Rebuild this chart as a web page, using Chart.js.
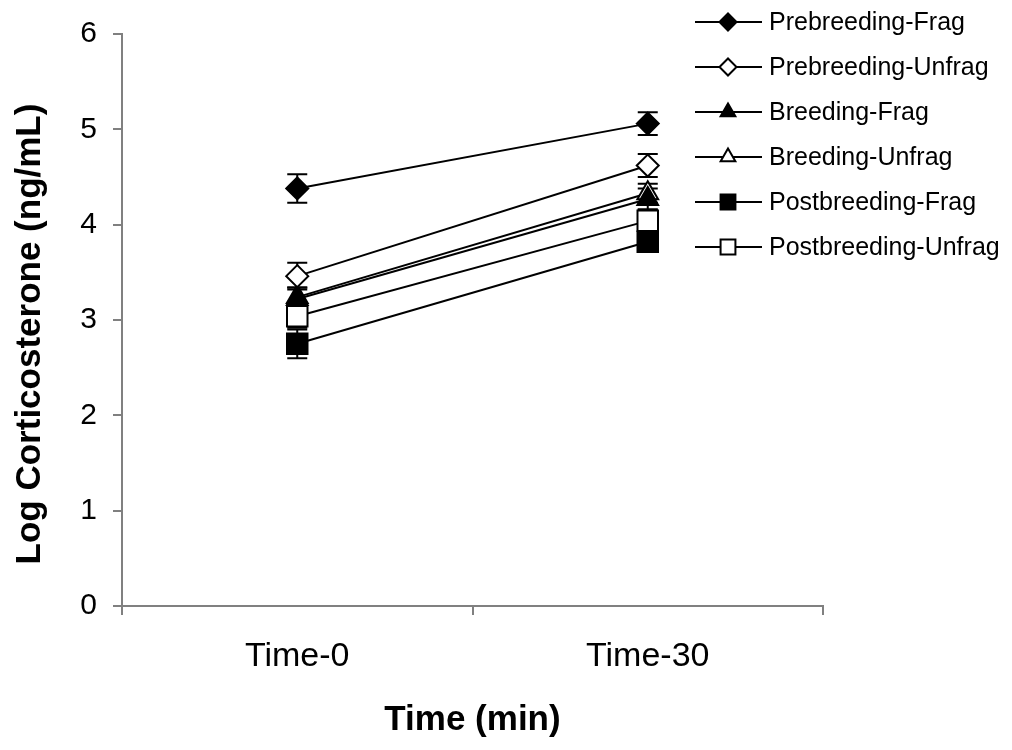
<!DOCTYPE html>
<html>
<head>
<meta charset="utf-8">
<script src="https://cdn.jsdelivr.net/npm/chart.js@4/dist/chart.umd.min.js"></script>
<style>
  html, body { margin: 0; padding: 0; background: #fff; }
  #wrap { width: 1012px; height: 750px; }
</style>
</head>
<body>
<div id="wrap"><canvas id="cortChart" width="1012" height="750"></canvas></div>
<script>
// categories and values
var categories = ["Time-0", "Time-30"];
var yTicks = [0, 1, 2, 3, 4, 5, 6];

var preFrag = [4.38, 5.06];
var preFragErr = [0.15, 0.12];
var preUnfrag = [3.46, 4.62];
var preUnfragErr = [0.14, 0.12];
var brFrag = [3.22, 4.27];
var brFragErr = [0.12, 0.11];
var brUnfrag = [3.24, 4.33];
var brUnfragErr = [0.10, 0.10];
var postFrag = [2.75, 3.82];
var postFragErr = [0.15, 0.10];
var postUnfrag = [3.04, 4.04];
var postUnfragErr = [0.12, 0.12];

var seriesNames = [
  "Prebreeding-Frag", "Prebreeding-Unfrag", "Breeding-Frag",
  "Breeding-Unfrag", "Postbreeding-Frag", "Postbreeding-Unfrag"
];

var yTitle = "Log Corticosterone (ng/mL)";
var FONT = "'Liberation Sans', Arial, sans-serif";

function makeSet(i, values, errs, style, filled, radius) {
  return {
    label: seriesNames[i],
    data: values,
    errors: errs,
    borderColor: "#000",
    borderWidth: 2,
    pointStyle: style,
    pointRadius: radius,
    pointHoverRadius: radius,
    pointBorderWidth: 2,
    pointBorderColor: "#000",
    pointBackgroundColor: filled ? "#000" : "#fff",
    fill: false,
    tension: 0
  };
}

var datasets = [
  makeSet(0, preFrag, preFragErr, "rectRot", true, 11),
  makeSet(1, preUnfrag, preUnfragErr, "rectRot", false, 11),
  makeSet(2, brFrag, brFragErr, "triangle", true, 12),
  makeSet(3, brUnfrag, brUnfragErr, "triangle", false, 12),
  makeSet(4, postFrag, postFragErr, "rect", true, 14.5),
  makeSet(5, postUnfrag, postUnfragErr, "rect", false, 14.5)
];

// error bars drawn under the markers
var errorBars = {
  id: "errorBars",
  beforeDatasetsDraw: function (chart) {
    var ctx = chart.ctx;
    var y = chart.scales.y;
    ctx.save();
    ctx.strokeStyle = "#000";
    ctx.lineWidth = 2;
    chart.data.datasets.forEach(function (ds, di) {
      var meta = chart.getDatasetMeta(di);
      meta.data.forEach(function (pt, i) {
        var v = ds.data[i], e = ds.errors[i];
        var top = y.getPixelForValue(v + e);
        var bot = y.getPixelForValue(v - e);
        ctx.beginPath();
        ctx.moveTo(pt.x, top); ctx.lineTo(pt.x, bot);
        ctx.moveTo(pt.x - 10, top); ctx.lineTo(pt.x + 10, top);
        ctx.moveTo(pt.x - 10, bot); ctx.lineTo(pt.x + 10, bot);
        ctx.stroke();
      });
    });
    ctx.restore();
  }
};

// legend in the Excel style (line with the marker in the middle) + y title
var lineLegend = {
  id: "lineLegend",
  afterDraw: function (chart) {
    var ctx = chart.ctx;
    var x0 = 695, x1 = 762, tx = 769;
    var rows = [22, 67, 112, 157, 202, 247];
    ctx.save();
    chart.data.datasets.forEach(function (ds, i) {
      var yy = rows[i];
      ctx.strokeStyle = "#000";
      ctx.lineWidth = 2;
      ctx.beginPath();
      ctx.moveTo(x0, yy); ctx.lineTo(x1, yy);
      ctx.stroke();
      ctx.fillStyle = ds.pointBackgroundColor;
      ctx.strokeStyle = "#000";
      ctx.lineWidth = 2;
      Chart.helpers.drawPoint(ctx, {
        pointStyle: ds.pointStyle,
        radius: ds.pointStyle === "rect" ? 10.5 : 8.5,
        rotation: 0,
        borderWidth: 2
      }, 728, yy);
      ctx.fillStyle = "#000";
      ctx.font = "25px " + FONT;
      ctx.textAlign = "left";
      ctx.textBaseline = "middle";
      ctx.fillText(ds.label, tx, yy + 1);
    });

    // y axis title, sits a little below the plot centre like the original
    var area = chart.chartArea;
    ctx.translate(30, (area.top + area.bottom) / 2 + 14);
    ctx.rotate(-Math.PI / 2);
    ctx.font = "bold 35px " + FONT;
    ctx.textAlign = "center";
    ctx.textBaseline = "middle";
    ctx.fillStyle = "#000";
    ctx.fillText(yTitle, 0, 0);
    ctx.restore();
  }
};

var ctx = document.getElementById("cortChart").getContext("2d");
var myChart = new Chart(ctx, {
  type: "line",
  data: { labels: categories, datasets: datasets },
  options: {
    responsive: false,
    animation: false,
    layout: { padding: { top: 34, right: 189, left: 0, bottom: 0 } },
    plugins: {
      legend: { display: false },
      tooltip: { enabled: false }
    },
    scales: {
      x: {
        offset: true,
        grid: {
          offset: true,
          drawOnChartArea: false,
          color: "#808080",
          lineWidth: 2,
          tickLength: 9
        },
        border: { color: "#808080", width: 2 },
        ticks: {
          color: "#000",
          padding: 21,
          font: { family: FONT, size: 34 }
        },
        title: {
          display: true,
          text: "Time (min)",
          color: "#000",
          padding: { top: 0, bottom: 9 },
          font: { family: FONT, size: 35, weight: "bold" }
        },
        afterFit: function (s) { s.height = 144; }
      },
      y: {
        min: 0,
        max: 6,
        afterBuildTicks: function (s) {
          s.ticks = yTicks.map(function (v) { return { value: v }; });
        },
        grid: {
          drawOnChartArea: false,
          color: "#808080",
          lineWidth: 2,
          tickLength: 9
        },
        border: { color: "#808080", width: 2 },
        ticks: {
          color: "#000",
          padding: 16,
          font: { family: FONT, size: 30 }
        },
        afterFit: function (s) { s.width = 122; }
      }
    }
  },
  plugins: [errorBars, lineLegend]
});
</script>
</body>
</html>
